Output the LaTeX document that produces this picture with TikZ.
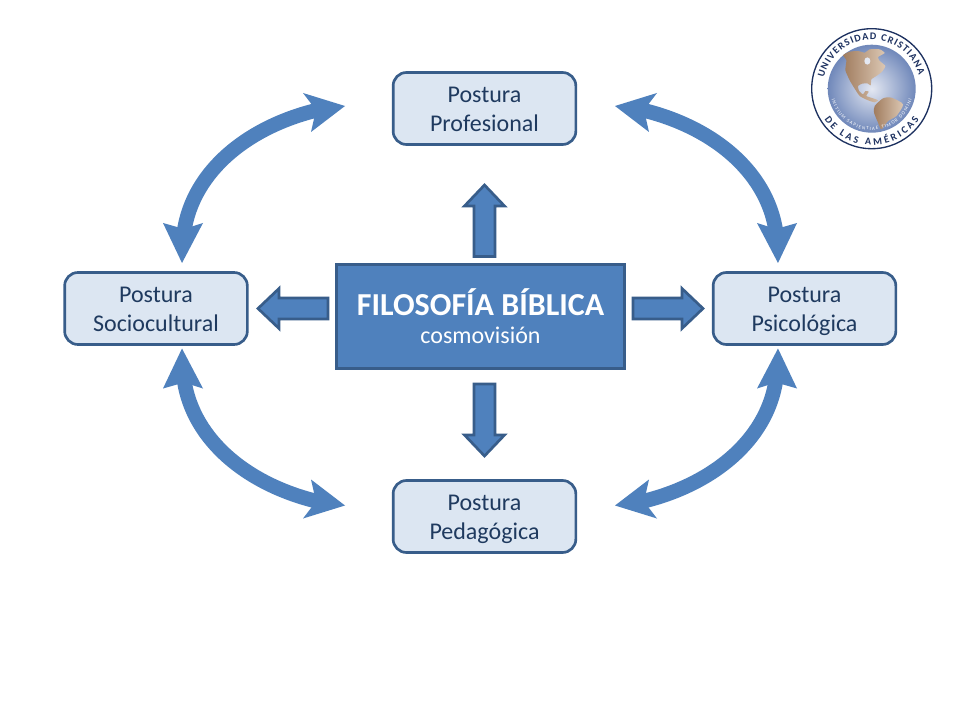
\documentclass[tikz,border=0pt]{standalone}
\usepackage{fontspec}
\setmainfont{Carlito}
\usetikzlibrary{decorations.text}
\definecolor{boxfill}{HTML}{DCE6F2}
\definecolor{blueedge}{HTML}{385D8A}
\definecolor{bluefill}{HTML}{4F81BD}
\definecolor{inktext}{HTML}{1F3A5F}
\definecolor{sealink}{HTML}{1D3160}
\definecolor{landdark}{HTML}{A07C5E}
\definecolor{landlight}{HTML}{DCC8B4}
\definecolor{globeedge}{HTML}{7088BA}
\definecolor{globemid}{HTML}{E4E8F2}
\newcommand{\firstline}{\rule{0pt}{19pt}}
\tikzset{
  posture/.style={draw=blueedge,fill=boxfill,line width=2pt,rounded corners=10pt,
    minimum width=137pt,minimum height=54pt,inner sep=0pt,align=center,text=inktext,
    font=\fontsize{18pt}{21.8pt}\selectfont},
  centerbox/.style={draw=blueedge,fill=bluefill,line width=2pt,minimum width=216pt,
    minimum height=78pt,inner sep=0pt,align=center,text=white,
    font=\fontsize{18pt}{21pt}\selectfont},
  blockarrow/.style={draw=blueedge,fill=bluefill,line width=2pt,line join=miter},
  curveshaft/.style={draw=bluefill,line width=11pt,line cap=butt},
  curvehead/.style={fill=bluefill,draw=none},
  land/.style={left color=landdark,right color=landlight,draw=none},
}
\newcommand{\straightarrow}[4]{%
  \begin{scope}[shift={(#1,#2)},rotate=#3]
    \draw[blockarrow] (0,-10.5) -- (#4-21,-10.5) -- (#4-21,-20) -- (#4,0)
      -- (#4-21,20) -- (#4-21,10.5) -- (0,10.5) -- cycle;
  \end{scope}}
\newcommand{\curvedarrow}{%
  \draw[curveshaft] (184,232) .. controls (193,170) and (250,125) .. (322,109);
  \fill[curvehead] (345,106) -- (303,93) -- (316,110) -- (311,132) -- cycle;
  \fill[curvehead] (182,263) -- (163,223) -- (184,229) -- (203,223) -- cycle;}
\begin{document}
\begin{tikzpicture}[x=0.75pt,y=-0.75pt]
\useasboundingbox (0,0) rectangle (960,720);
\fill[white] (0,0) rectangle (960,720);

\curvedarrow
\begin{scope}[shift={(960,0)},xscale=-1]\curvedarrow\end{scope}
\begin{scope}[shift={(0,611.5)},yscale=-1]\curvedarrow\end{scope}
\begin{scope}[shift={(960,611.5)},xscale=-1,yscale=-1]\curvedarrow\end{scope}

\straightarrow{484.5}{256.5}{90}{71.5}
\straightarrow{484.5}{384}{-90}{72}
\straightarrow{328}{308.5}{180}{70}
\straightarrow{633}{308.5}{0}{70}

\node[centerbox] (filosofia) at (480.5,316.5)
  {{\fontsize{24pt}{28pt}\selectfont\bfseries FILOSOFÍA BÍBLICA}\\
   cosmovisión};
\node[posture] (profesional) at (484.5,108.5) {\firstline Postura\strut\\Profesional\strut};
\node[posture] (sociocultural) at (156,308.5) {\firstline Postura\strut\\Sociocultural\strut};
\node[posture] (psicologica) at (804.5,308.5) {\firstline Postura\strut\\Psicológica\strut};
\node[posture] (pedagogica) at (484.5,516.5) {\firstline Postura\strut\\Pedagógica\strut};

% Seal
\begin{scope}[shift={(871.7,88.7)},x=0.75pt,y=0.75pt]
  \draw[sealink,line width=1pt] (0,0) circle (60);
  \shade[inner color=globemid,outer color=globeedge] (0,0) circle (44);
  \begin{scope}
    \clip (0,0) circle (44);
    \begin{scope}[shift={(-47,47.7)},x=0.25pt,y=-0.25pt]
      \path[land] plot[smooth cycle,tension=0.3] coordinates {
        (55,42) (75,32) (100,30) (120,35) (135,25) (165,25) (180,36) (160,48)
        (165,60) (182,75) (172,92) (155,105) (140,115) (138,133) (128,127)
        (112,128) (100,135) (103,150) (115,160) (122,150) (132,152) (125,165)
        (145,172) (160,178) (150,184) (130,178) (105,165) (88,140)
        (75,118) (62,88) (65,58)};
      \path[land] plot[smooth cycle,tension=0.4] coordinates {
        (150,195) (175,172) (200,170) (235,190) (215,225) (190,240) (170,265)
        (160,245) (148,215)};
      \fill[globemid] (128,60) ellipse (9 and 11);
    \end{scope}
  \end{scope}
  \path[decorate,decoration={text along path,text align={fit to path},
    text={|\color{sealink}\bfseries\fontsize{7.6pt}{9pt}\selectfont|UNIVERSIDAD CRISTIANA}}]
    (167:49) arc[start angle=167,end angle=16,radius=49];
  \path[decorate,decoration={text along path,text align={fit to path},
    text={|\color{sealink}\bfseries\fontsize{7.6pt}{9pt}\selectfont|DE LAS AMÉRICAS}}]
    (213:56.5) arc[start angle=213,end angle=327,radius=56.5];
  \path[decorate,decoration={text along path,text align={fit to path},
    text={|\color{white}\fontsize{3.6pt}{4pt}\selectfont|INITIUM SAPIENTIAE TIMOR DOMINI}}]
    (195:41.5) arc[start angle=195,end angle=345,radius=41.5];
\end{scope}
\end{tikzpicture}
\end{document}
